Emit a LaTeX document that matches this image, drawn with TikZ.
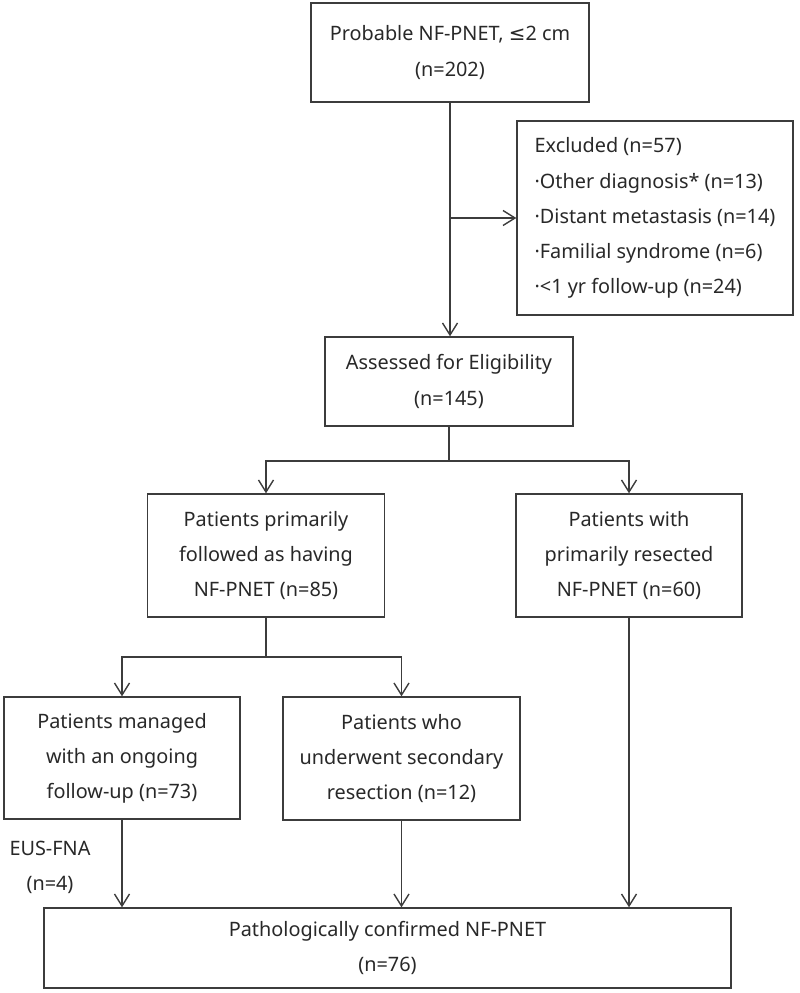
\documentclass[tikz,border=0pt]{standalone}
\usepackage{fontspec}
\setmainfont{Noto Sans}
\newfontfamily\symfont{DejaVu Sans}
\usetikzlibrary{arrows.meta}
\definecolor{boxline}{RGB}{60,60,60}
\definecolor{boxtext}{RGB}{40,40,40}

\begin{document}
\begin{tikzpicture}[x=0.02cm,y=-0.02cm,
    box/.style={draw=boxline,line width=0.8pt,align=center,text=boxtext,
      font=\fontsize{11.3}{20}\selectfont,inner sep=0pt},
    flow/.style={draw=boxline,line width=0.8pt,-{Straight Barb[length=2.4mm,width=3mm]}},
    link/.style={draw=boxline,line width=0.8pt}]
    \useasboundingbox (0,0) rectangle (800,993);
    \node[box,minimum width=5.56cm,minimum height=1.98cm] (P0) at (450,52.5)
      {Probable NF-PNET, {\symfont ≤}2 cm\\(n=202)};
    \node[box,align=left,minimum width=5.52cm,minimum height=3.88cm] (E0) at (655,218)
      {Excluded (n=57)\\·Other diagnosis* (n=13)\\·Distant metastasis (n=14)\\%
       ·Familial syndrome (n=6)\\·<1 yr follow-up (n=24)};
    \node[box,minimum width=4.96cm,minimum height=1.78cm] (A0) at (449,381.5)
      {Assessed for Eligibility\\(n=145)};
    \node[box,minimum width=4.74cm,minimum height=2.46cm] (F1) at (266,555.5)
      {Patients primarily\\followed as having\\NF-PNET (n=85)};
    \node[box,minimum width=4.52cm,minimum height=2.46cm] (R1) at (629,555.5)
      {Patients with\\primarily resected\\NF-PNET (n=60)};
    \node[box,minimum width=4.72cm,minimum height=2.44cm] (M2) at (122,758)
      {Patients managed\\with an ongoing\\follow-up (n=73)};
    \node[box,minimum width=4.74cm,minimum height=2.46cm] (S2) at (401.5,758.5)
      {Patients who\\underwent secondary\\resection (n=12)};
    \node[box,minimum width=13.74cm,minimum height=1.60cm] (C3) at (387.5,948)
      {Pathologically confirmed NF-PNET\\(n=76)};
    \node[box,draw=none] (L1) at (50,867) {EUS-FNA\\(n=4)};
    % top part
    \draw[flow] (P0.south) -- (P0.south |- A0.north);
    \draw[flow] (P0.south |- E0.west) -- (E0.west);
    % first split
    \coordinate (J1) at (449,461);
    \draw[link] (A0.south) -- (J1);
    \draw[flow] (J1) -| (F1.north);
    \draw[flow] (J1) -| (R1.north);
    % second split
    \coordinate (J2) at (266,657);
    \draw[link] (F1.south) -- (J2);
    \draw[flow] (J2) -| (M2.north);
    \draw[flow] (J2) -| (S2.north);
    % into the confirmed box
    \draw[flow] (M2.south) -- (M2.south |- C3.north);
    \draw[flow] (S2.south) -- (S2.south |- C3.north);
    \draw[flow] (R1.south) -- (R1.south |- C3.north);
\end{tikzpicture}
\end{document}
